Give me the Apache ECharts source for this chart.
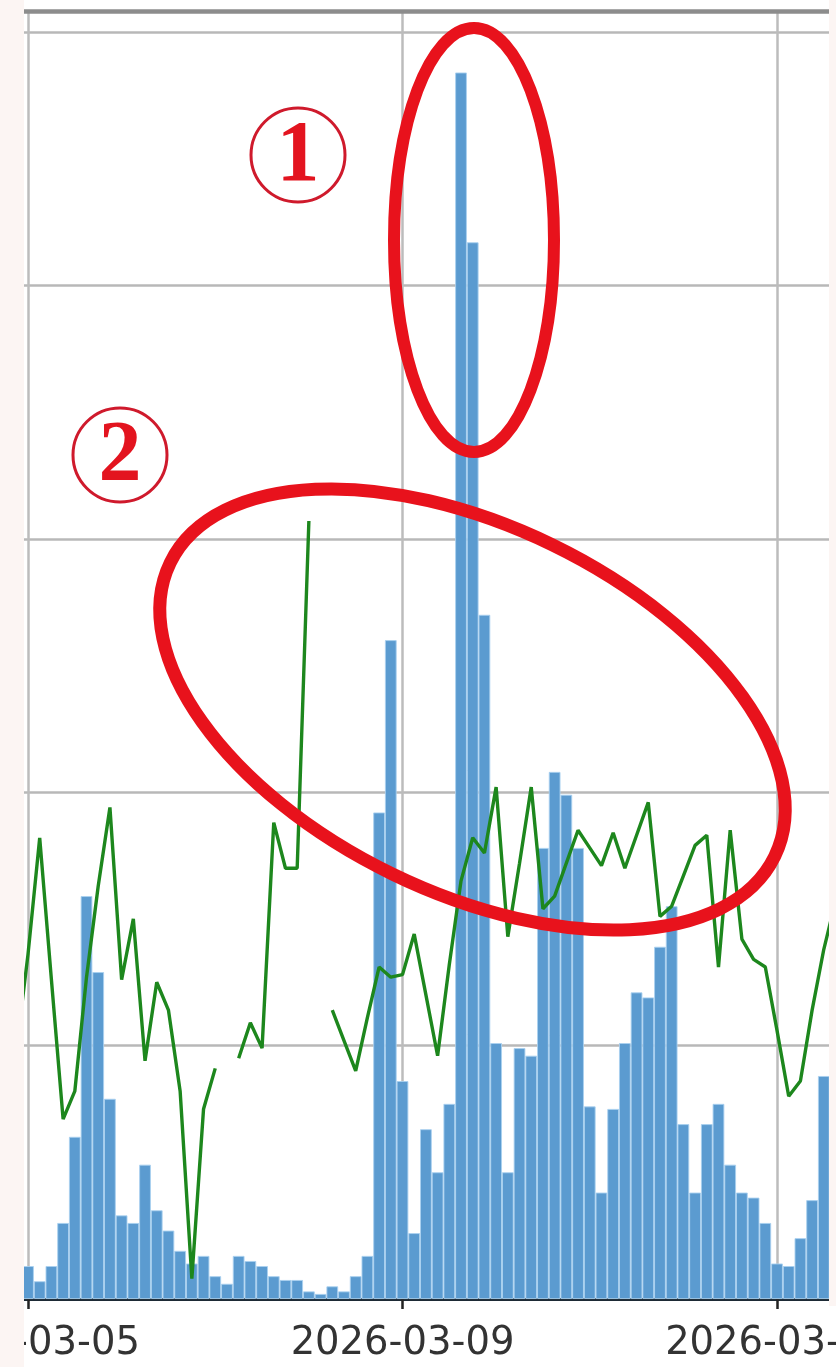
<!DOCTYPE html>
<html>
<head>
<meta charset="utf-8">
<script src="https://cdn.jsdelivr.net/npm/echarts@6/dist/echarts.min.js"></script>
<style>
html, body { margin: 0; padding: 0; background: #fff; }
#main { width: 836px; height: 1367px; }
</style>
</head>
<body>
<div id="main"></div>
<script>
// hours since 2026-03-05 00:00, one bin every 3 hours
var hours = [
    -3, 0, 3, 6, 9, 12, 15, 18, 21, 24, 27, 30, 33, 36, 39, 42, 45, 48, 51, 54, 57, 60, 63, 66,
    69, 72, 75, 78, 81, 84, 87, 90, 93, 96, 99, 102, 105, 108, 111, 114, 117, 120, 123, 126,
    129, 132, 135, 138, 141, 144, 147, 150, 153, 156, 159, 162, 165, 168, 171, 174, 177, 180,
    183, 186, 189, 192, 195, 198, 201, 204, 207
];
var barValues = [
    0.20,
    0.13, 0.07, 0.13, 0.30, 0.64, 1.59, 1.29, 0.79,
    0.33, 0.30, 0.53, 0.35, 0.27, 0.19, 0.14, 0.17,
    0.09, 0.06, 0.17, 0.15, 0.13, 0.09, 0.075, 0.075,
    0.03, 0.02, 0.05, 0.03, 0.09, 0.17, 1.92, 2.60,
    0.86, 0.26, 0.67, 0.50, 0.77, 4.84, 4.17, 2.70,
    1.01, 0.50, 0.99, 0.96, 1.78, 2.08, 1.99, 1.78,
    0.76, 0.42, 0.75, 1.01, 1.21, 1.19, 1.39, 1.55,
    0.69, 0.42, 0.69, 0.77, 0.53, 0.42, 0.40, 0.30,
    0.14, 0.13, 0.24, 0.39, 0.88,
    1.10
];
var lineValues = [
    0.98,
    1.36, 1.82, 1.26, 0.71, 0.82, 1.27, 1.63, 1.94,
    1.26, 1.50, 0.94, 1.25, 1.14, 0.82, 0.08, 0.75,
    0.91, null, 0.95, 1.09, 0.99, 1.88, 1.70, 1.70,
    3.07, null, 1.14, 1.02, 0.90, 1.11, 1.31, 1.27,
    1.28, 1.44, 1.20, 0.96, 1.32, 1.65, 1.82, 1.76,
    2.02, 1.43, 1.72, 2.02, 1.54, 1.59, 1.72, 1.85,
    1.78, 1.71, 1.84, 1.70, 1.83, 1.96, 1.51, 1.55,
    1.67, 1.79, 1.83, 1.31, 1.85, 1.42, 1.34, 1.31,
    1.06, 0.80, 0.86, 1.14, 1.38,
    1.57
];
var tickHours = [-96, 0, 96, 192, 288];
var tickLabels = ['2026-03-01', '2026-03-05', '2026-03-09', '2026-03-13', '2026-03-17'];

var myChart = echarts.init(document.getElementById('main'));

var barData = hours.map(function (h, i) { return [h, barValues[i]]; });
var lineData = hours.map(function (h, i) {
    return [h, lineValues[i] === null ? '-' : lineValues[i]];
});

var pink = '#fcf5f3';
var red = '#e8121c';

var option = {
    backgroundColor: '#ffffff',
    animation: false,
    // the picture is a crop of a wider plot, so the grid runs past the page on both sides
    grid: { left: -346.5, right: -315.5, top: 11.7, bottom: 68, outerBoundsMode: 'none', containLabel: false },
    xAxis: [
        {
            type: 'value', min: -96, max: 288, interval: 96,
            axisLine: { show: true, onZero: false, lineStyle: { color: '#1d2a35', width: 3 } },
            axisTick: { show: true, length: 10, lineStyle: { color: '#222', width: 2.5 } },
            axisLabel: {
                margin: 25, fontSize: 38.5, fontFamily: 'DejaVu Sans', color: '#333',
                formatter: function (v) {
                    var i = tickHours.indexOf(v);
                    return i >= 0 ? tickLabels[i] : '';
                }
            },
            splitLine: { show: true, lineStyle: { color: '#bcbcbc', width: 2.5 } }
        },
        {
            type: 'value', position: 'top', min: -96, max: 288, interval: 96,
            axisLine: { show: true, onZero: false, lineStyle: { color: '#8c8c8c', width: 4.5 } },
            axisTick: { show: false }, axisLabel: { show: false }, splitLine: { show: false }
        }
    ],
    yAxis: {
        type: 'value', min: 0, max: 5.08, interval: 1,
        axisLine: { show: false }, axisTick: { show: false }, axisLabel: { show: false },
        splitLine: { show: true, lineStyle: { color: '#b8b8b8', width: 2.5 } }
    },
    series: [
        {
            type: 'bar', data: barData, barWidth: 11.7,
            itemStyle: { color: '#5b9bd0', borderColor: '#a9d0ef', borderWidth: 0.9 },
            z: 2
        },
        {
            type: 'line', data: lineData, symbol: 'none', connectNulls: false,
            lineStyle: { color: '#1d871d', width: 3.4 },
            z: 3
        }
    ],
    graphic: [
        { type: 'rect', shape: { x: 0, y: 0, width: 24, height: 1367 }, style: { fill: pink }, z: 100 },
        { type: 'rect', shape: { x: 829, y: 0, width: 7, height: 1306 }, style: { fill: pink }, z: 100 },
        {
            type: 'ellipse', x: 474, y: 240, shape: { cx: 0, cy: 0, rx: 80, ry: 212 },
            style: { fill: 'none', stroke: red, lineWidth: 12 }, z: 110
        },
        {
            type: 'ellipse', x: 472.5, y: 709.5, rotation: -0.452,
            shape: { cx: 0, cy: 0, rx: 336, ry: 183 },
            style: { fill: 'none', stroke: red, lineWidth: 13 }, z: 110
        },
        {
            type: 'circle', shape: { cx: 298, cy: 155, r: 47 },
            style: { fill: 'none', stroke: '#cf1a2c', lineWidth: 3 }, z: 110
        },
        {
            type: 'text', x: 298, y: 158, z: 111,
            style: {
                text: '1', font: 'bold 86px "Liberation Serif"', fill: '#e3141f',
                textAlign: 'center', textVerticalAlign: 'middle', align: 'center', verticalAlign: 'middle'
            }
        },
        {
            type: 'circle', shape: { cx: 120, cy: 455, r: 47 },
            style: { fill: 'none', stroke: '#cf1a2c', lineWidth: 3 }, z: 110
        },
        {
            type: 'text', x: 120, y: 458, z: 111,
            style: {
                text: '2', font: 'bold 86px "Liberation Serif"', fill: '#e3141f',
                textAlign: 'center', textVerticalAlign: 'middle', align: 'center', verticalAlign: 'middle'
            }
        }
    ]
};

myChart.setOption(option);
</script>
</body>
</html>
